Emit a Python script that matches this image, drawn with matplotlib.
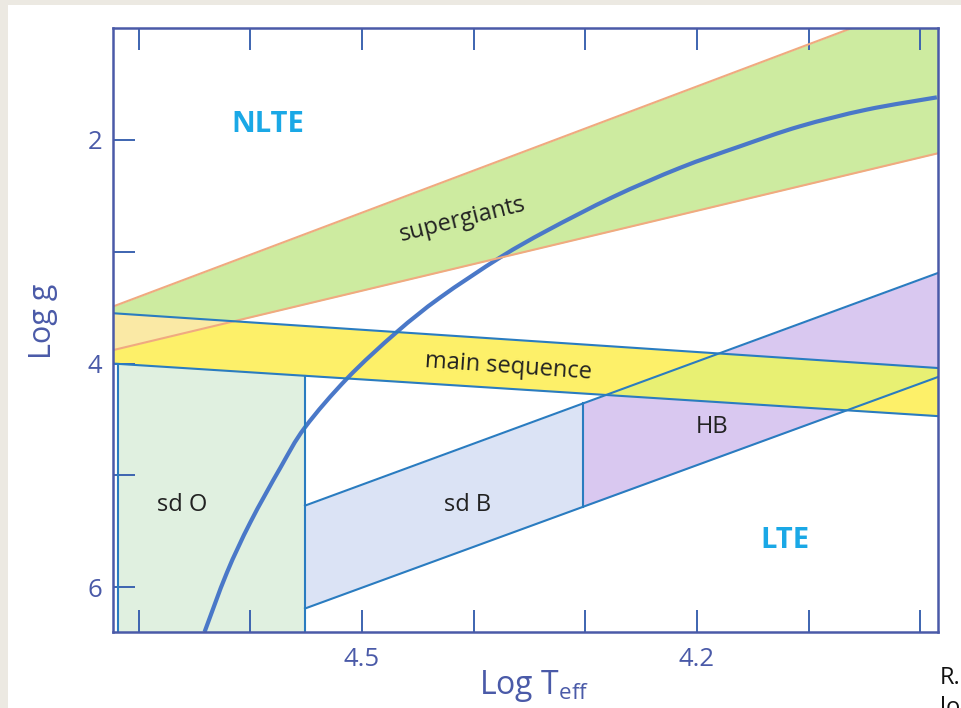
import numpy as np
import matplotlib
matplotlib.use("Agg")
import matplotlib.pyplot as plt
from matplotlib.patches import Rectangle, PathPatch
from matplotlib.path import Path

plt.rcParams['font.family'] = ['Open Sans', 'DejaVu Sans']
plt.rcParams['mathtext.fontset'] = 'custom'
plt.rcParams['mathtext.rm'] = 'Open Sans'

# band boundaries (log Teff at left / right edge)
teff_ends = [4.723, 3.984]
sg_top = [3.49, 0.71]
sg_bot = [3.88, 2.12]
ms_top = [3.55, 4.04]
ms_bot = [4.00, 4.47]

# sdB / HB strip: the two lines, from the sdO edge to the right edge
hb_teff = [4.551, 3.984]
hb_top = [5.27, 3.19]
hb_bot = [6.19, 4.12]
sdo_teff = [4.7185, 4.551]
sdb_hb_split = 4.302

# NLTE / LTE boundary curve
curve_teff = [4.641, 4.621, 4.600, 4.573, 4.551, 4.513, 4.469, 4.430, 4.376,
              4.334, 4.275, 4.215, 4.162, 4.108, 4.048, 3.985]
curve_logg = [6.40, 5.87, 5.42, 4.93, 4.57, 4.13, 3.72, 3.41, 3.05,
              2.81, 2.51, 2.25, 2.06, 1.88, 1.73, 1.62]

xticks = [4.7, 4.6, 4.5, 4.4, 4.3, 4.2, 4.1, 4.0]
xlabels = ['', '', '4.5', '', '', '4.2', '', '']
yticks = [2, 3, 4, 5, 6]
ylabels = ['2', '', '4', '', '6']

frame = '#4a5aa8'
edge = '#2a7cc0'
orange = '#f0aa80'
txt = '#222222'

fig = plt.figure(figsize=(9.61, 7.08), dpi=100, facecolor='#ece9e2')
fig.patches.append(Rectangle((8 / 961, 0), 1, 1 - 5 / 708, transform=fig.transFigure,
                             facecolor='white', edgecolor='none', zorder=-10))
ax = fig.add_axes([113 / 961, 76 / 708, 825 / 961, 604 / 708])

x = np.linspace(teff_ends[0], teff_ends[1], 800)
def line(xs, ys, xx):
    return np.interp(xx, xs[::-1], ys[::-1])

sgt, sgb = line(teff_ends, sg_top, x), line(teff_ends, sg_bot, x)
mst, msb = line(teff_ends, ms_top, x), line(teff_ends, ms_bot, x)

# sdO box
xo = np.linspace(sdo_teff[0], sdo_teff[1], 50)
ax.fill_between(xo, line(teff_ends, ms_bot, xo), 6.4, color='#e0f0e0', lw=0)
# sdB and HB
xb = np.linspace(hb_teff[0], sdb_hb_split, 50)
ax.fill_between(xb, line(hb_teff, hb_top, xb), line(hb_teff, hb_bot, xb), color='#dbe3f5', lw=0)
xh = np.linspace(sdb_hb_split, hb_teff[1], 50)
hbt, hbb = line(hb_teff, hb_top, xh), line(hb_teff, hb_bot, xh)
ax.fill_between(xh, hbt, hbb, color='#d9c8f0', lw=0)
# supergiants and main sequence
ax.fill_between(x, sgt, sgb, color='#cdeba0', lw=0)
ax.fill_between(x, mst, msb, color='#fdf069', lw=0)
lo, hi = np.maximum(sgt, mst), np.minimum(sgb, msb)
ax.fill_between(x, lo, hi, where=lo < hi, interpolate=True, color='#fae9a5', lw=0)
mh_lo = np.maximum(hbt, line(teff_ends, ms_top, xh))
mh_hi = np.minimum(hbb, line(teff_ends, ms_bot, xh))
ax.fill_between(xh, mh_lo, mh_hi, where=mh_lo < mh_hi, interpolate=True, color='#e8f073', lw=0)

# outlines
ax.plot(teff_ends, sg_top, color=orange, lw=1.5)
ax.plot(teff_ends, sg_bot, color=orange, lw=1.5)
ax.plot(teff_ends, ms_top, color=edge, lw=1.5)
ax.plot(teff_ends, ms_bot, color=edge, lw=1.5)
ax.plot(hb_teff, hb_top, color=edge, lw=1.5)
ax.plot(hb_teff, hb_bot, color=edge, lw=1.5)
for xv in sdo_teff:
    ax.plot([xv, xv], [line(teff_ends, ms_bot, [xv])[0], 6.4], color=edge, lw=1.5)
ax.plot([sdb_hb_split] * 2, [line(hb_teff, hb_top, [sdb_hb_split])[0],
                             line(hb_teff, hb_bot, [sdb_hb_split])[0]], color=edge, lw=1.5)

# smooth boundary curve through the read points (Catmull-Rom as cubic Beziers)
pts = np.column_stack([curve_teff, curve_logg])
ext = np.vstack([pts[0], pts, pts[-1]])
verts, codes = [pts[0]], [Path.MOVETO]
for i in range(1, len(ext) - 2):
    p0, p1, p2, p3 = ext[i - 1], ext[i], ext[i + 1], ext[i + 2]
    verts += [p1 + (p2 - p0) / 6, p2 - (p3 - p1) / 6, p2]
    codes += [Path.CURVE4] * 3
ax.add_patch(PathPatch(Path(verts, codes), fill=False, edgecolor='#4a78c8', lw=3,
                       capstyle='butt', clip_on=True))

ax.set_xlim(teff_ends[0], teff_ends[1])
ax.set_ylim(6.4, 1.0)
ax.set_xticks(xticks, xlabels)
ax.set_yticks(yticks, ylabels)
ax.tick_params(axis='x', direction='in', length=16, width=1.4, color='#3d64b0',
               top=True, labelsize=18.5, labelcolor=frame, pad=11)
ax.tick_params(axis='y', direction='in', length=16, width=1.4, color='#3d64b0',
               right=False, labelsize=18.5, labelcolor=frame, pad=8)
for s in ax.spines.values():
    s.set_color(frame)
    s.set_linewidth(1.8)

ax.set_xlabel(r'Log T$_{\mathrm{eff}}$', fontsize=23, color=frame, labelpad=-3)
ax.xaxis.label.set_x(0.511)
ax.set_ylabel('Log g', fontsize=22, color=frame)
ax.yaxis.set_label_coords(-0.067, 0.515)

ax.text(4.584, 1.866, 'NLTE', fontsize=21, fontweight='bold', color='#1aa8e6',
        ha='center', va='center')
ax.text(4.121, 5.579, 'LTE', fontsize=21, fontweight='bold', color='#1aa8e6',
        ha='center', va='center')
ax.text(4.410, 2.716, 'supergiants', fontsize=17, color=txt, rotation=14,
        ha='center', va='center', rotation_mode='anchor')
ax.text(4.369, 4.031, 'main sequence', fontsize=17, color=txt, rotation=-4,
        ha='center', va='center', rotation_mode='anchor')
ax.text(4.186, 4.568, 'HB', fontsize=17, color=txt, ha='center', va='center')
ax.text(4.661, 5.266, 'sd O', fontsize=17, color=txt, ha='center', va='center')
ax.text(4.405, 5.266, 'sd B', fontsize=17, color=txt, ha='center', va='center')

fig.text(940 / 961, 1 - 678 / 708, 'R.', fontsize=17, color='#111111', va='center')
fig.text(940 / 961, 1 - 708 / 708, 'lo', fontsize=17, color='#111111', va='center')

fig.savefig('out.png', dpi=100, facecolor=fig.get_facecolor())
